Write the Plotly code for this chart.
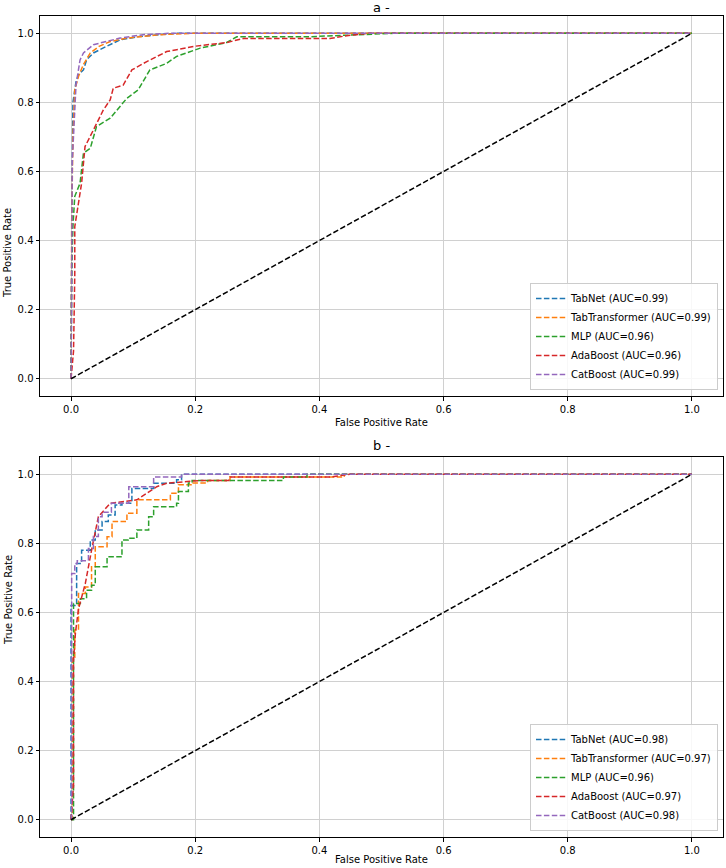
import plotly.graph_objects as go

models = ["TabNet", "TabTransformer", "MLP", "AdaBoost", "CatBoost"]
colors = ["#1f77b4", "#ff7f0e", "#2ca02c", "#d62728", "#9467bd"]
auc_a = [0.99, 0.99, 0.96, 0.96, 0.99]
auc_b = [0.98, 0.97, 0.96, 0.97, 0.98]
tick_vals = [0.0, 0.2, 0.4, 0.6, 0.8, 1.0]
tick_text = ["0.0", "0.2", "0.4", "0.6", "0.8", "1.0"]

# ---- panel a ----
tabnet_a_fpr = [0, 0.001, 0.002, 0.003, 0.006, 0.008, 0.012, 0.02, 0.025, 0.036, 0.057, 0.079, 0.111, 0.17, 1.0]
tabnet_a_tpr = [0, 0.45, 0.62, 0.80, 0.83, 0.86, 0.88, 0.894, 0.923, 0.943, 0.962, 0.981, 0.991, 1.0, 1.0]
tabtr_a_fpr = [0, 0.001, 0.003, 0.006, 0.012, 0.02, 0.031, 0.045, 0.063, 0.09, 0.143, 0.197, 1.0]
tabtr_a_tpr = [0, 0.45, 0.70, 0.836, 0.875, 0.91, 0.943, 0.962, 0.976, 0.986, 0.996, 1.0, 1.0]
mlp_a_fpr = [0, 0.001, 0.003, 0.006, 0.0145, 0.02, 0.031, 0.041, 0.063, 0.079, 0.09, 0.108, 0.127, 0.154, 0.17, 0.208, 0.25, 0.267, 0.331, 0.385, 0.52, 1.0]
mlp_a_tpr = [0, 0.30, 0.44, 0.528, 0.566, 0.653, 0.667, 0.73, 0.754, 0.788, 0.812, 0.836, 0.894, 0.913, 0.933, 0.957, 0.973, 0.99, 0.99, 0.99, 1.0, 1.0]
ada_a_fpr = [0, 0.004, 0.006, 0.006, 0.017, 0.0225, 0.036, 0.052, 0.063, 0.068, 0.084, 0.098, 0.122, 0.154, 0.197, 0.25, 0.278, 0.417, 0.444, 0.48, 1.0]
ada_a_tpr = [0, 0.08, 0.30, 0.44, 0.566, 0.672, 0.72, 0.778, 0.807, 0.841, 0.85, 0.894, 0.918, 0.947, 0.962, 0.973, 0.985, 0.985, 0.993, 1.0, 1.0]
cat_a_fpr = [0, 0.001, 0.002, 0.005, 0.008, 0.0145, 0.02, 0.036, 0.0575, 0.079, 0.116, 0.16, 1.0]
cat_a_tpr = [0, 0.40, 0.63, 0.74, 0.85, 0.923, 0.943, 0.967, 0.976, 0.986, 0.996, 1.0, 1.0]

# ---- panel b (step corners) ----
tabnet_b_fpr = [0, 0, 0.009, 0.017, 0.031, 0.039, 0.05, 0.06, 0.071, 0.082, 0.098, 0.133, 0.17, 0.178, 1.0]
tabnet_b_tpr = [0, 0.62, 0.742, 0.78, 0.81, 0.839, 0.863, 0.882, 0.911, 0.916, 0.959, 0.974, 0.984, 1.0, 1.0]
tabtr_b_fpr = [0, 0.002, 0.006, 0.012, 0.023, 0.033, 0.039, 0.058, 0.066, 0.09, 0.106, 0.16, 0.173, 0.195, 0.22, 0.256, 0.44, 1.0]
tabtr_b_tpr = [0, 0.47, 0.549, 0.655, 0.674, 0.732, 0.79, 0.819, 0.863, 0.887, 0.926, 0.945, 0.97, 0.975, 0.982, 0.992, 1.0, 1.0]
mlp_b_fpr = [0, 0.004, 0.015, 0.025, 0.033, 0.039, 0.058, 0.082, 0.092, 0.106, 0.125, 0.133, 0.17, 0.173, 0.189, 0.195, 0.342, 0.38, 1.0]
mlp_b_tpr = [0, 0.626, 0.64, 0.664, 0.679, 0.732, 0.761, 0.81, 0.815, 0.839, 0.877, 0.906, 0.916, 0.95, 0.975, 0.982, 0.992, 1.0, 1.0]
ada_b_fpr = [0, 0.004, 0.004, 0.007, 0.012, 0.023, 0.033, 0.044, 0.063, 0.106, 0.138, 0.154, 0.187, 0.208, 0.254, 0.256, 0.417, 0.449, 1.0]
ada_b_tpr = [0, 0.10, 0.462, 0.54, 0.61, 0.684, 0.78, 0.877, 0.916, 0.926, 0.964, 0.974, 0.979, 0.982, 0.982, 0.992, 0.992, 1.0, 1.0]
cat_b_fpr = [0, 0.001, 0.006, 0.01, 0.028, 0.036, 0.044, 0.05, 0.065, 0.083, 0.093, 0.133, 0.178, 1.0]
cat_b_tpr = [0, 0.713, 0.742, 0.75, 0.785, 0.82, 0.877, 0.89, 0.916, 0.916, 0.964, 0.992, 1.0, 1.0]

diag = [0.0, 1.0]

panel_a = [(tabnet_a_fpr, tabnet_a_tpr), (tabtr_a_fpr, tabtr_a_tpr), (mlp_a_fpr, mlp_a_tpr),
           (ada_a_fpr, ada_a_tpr), (cat_a_fpr, cat_a_tpr)]
panel_b = [(tabnet_b_fpr, tabnet_b_tpr), (tabtr_b_fpr, tabtr_b_tpr), (mlp_b_fpr, mlp_b_tpr),
           (ada_b_fpr, ada_b_tpr), (cat_b_fpr, cat_b_tpr)]
shape_b = ["hv", "hv", "hv", "linear", "hv"]

DASH = "5.5px,2.4px"
fig = go.Figure()

for i, (fx, ty) in enumerate(panel_a):
    fig.add_trace(go.Scatter(x=fx, y=ty, mode="lines", name=f"{models[i]} (AUC={auc_a[i]:.2f})",
                             line=dict(color=colors[i], width=1.5, dash=DASH),
                             xaxis="x", yaxis="y", legend="legend"))
fig.add_trace(go.Scatter(x=diag, y=diag, mode="lines", showlegend=False,
                         line=dict(color="black", width=1.5, dash=DASH), xaxis="x", yaxis="y"))

for i, (fx, ty) in enumerate(panel_b):
    fig.add_trace(go.Scatter(x=fx, y=ty, mode="lines", name=f"{models[i]} (AUC={auc_b[i]:.2f})",
                             line=dict(color=colors[i], width=1.5, dash=DASH, shape=shape_b[i]),
                             xaxis="x2", yaxis="y2", legend="legend2"))
fig.add_trace(go.Scatter(x=diag, y=diag, mode="lines", showlegend=False,
                         line=dict(color="black", width=1.5, dash=DASH), xaxis="x2", yaxis="y2"))

FW, FH = 726, 868
L, R, T, B = 40, FW - 723, 16, FH - 837
H = FH - T - B
W = FW - L - R

def py(p):
    return (837 - p) / H
def px(p):
    return (p - L) / W

ax_common = dict(range=[-0.05, 1.05], tickvals=tick_vals, ticktext=tick_text,
                 showgrid=True, gridcolor="#d0d0d0", gridwidth=1,
                 showline=True, linecolor="black", linewidth=1, mirror=True,
                 ticks="outside", ticklen=3.5, tickcolor="black", zeroline=False,
                 tickfont=dict(size=10, color="black"))

fig.update_layout(
    width=FW, height=FH,
    margin=dict(l=L, r=R, t=T, b=B),
    paper_bgcolor="white", plot_bgcolor="white",
    font=dict(family="DejaVu Sans", size=10, color="black"),
    xaxis=dict(domain=[0, 1], anchor="y", **ax_common),
    yaxis=dict(domain=[py(396), 1.0], anchor="x", **ax_common),
    xaxis2=dict(domain=[0, 1], anchor="y2", **ax_common),
    yaxis2=dict(domain=[0, py(457)], anchor="x2", **ax_common),
    legend=dict(x=px(718), y=py(390), xanchor="right", yanchor="bottom",
                bgcolor="rgba(255,255,255,0.85)", bordercolor="#cccccc", borderwidth=1,
                font=dict(size=10), tracegroupgap=0, itemwidth=30),
    legend2=dict(x=px(718), y=py(831), xanchor="right", yanchor="bottom",
                 bgcolor="rgba(255,255,255,0.85)", bordercolor="#cccccc", borderwidth=1,
                 font=dict(size=10), tracegroupgap=0, itemwidth=30),
    annotations=[
        dict(text="a -", x=0.5, y=py(8), xref="paper", yref="paper", showarrow=False,
             font=dict(size=13), yanchor="middle"),
        dict(text="b -", x=0.5, y=py(445), xref="paper", yref="paper", showarrow=False,
             font=dict(size=13), yanchor="middle"),
        dict(text="False Positive Rate", x=0.5, y=py(422), xref="paper", yref="paper",
             showarrow=False, font=dict(size=10), yanchor="middle"),
        dict(text="False Positive Rate", x=0.5, y=py(859), xref="paper", yref="paper",
             showarrow=False, font=dict(size=10), yanchor="middle"),
        dict(text="True Positive Rate", x=px(8), y=py(206), xref="paper", yref="paper",
             showarrow=False, textangle=-90, font=dict(size=10), xanchor="center"),
        dict(text="True Positive Rate", x=px(8), y=py(647), xref="paper", yref="paper",
             showarrow=False, textangle=-90, font=dict(size=10), xanchor="center"),
    ],
)

fig.write_html("out.html", config={"displayModeBar": False},
               post_script="document.body.style.margin='0';document.body.style.padding='0';")
